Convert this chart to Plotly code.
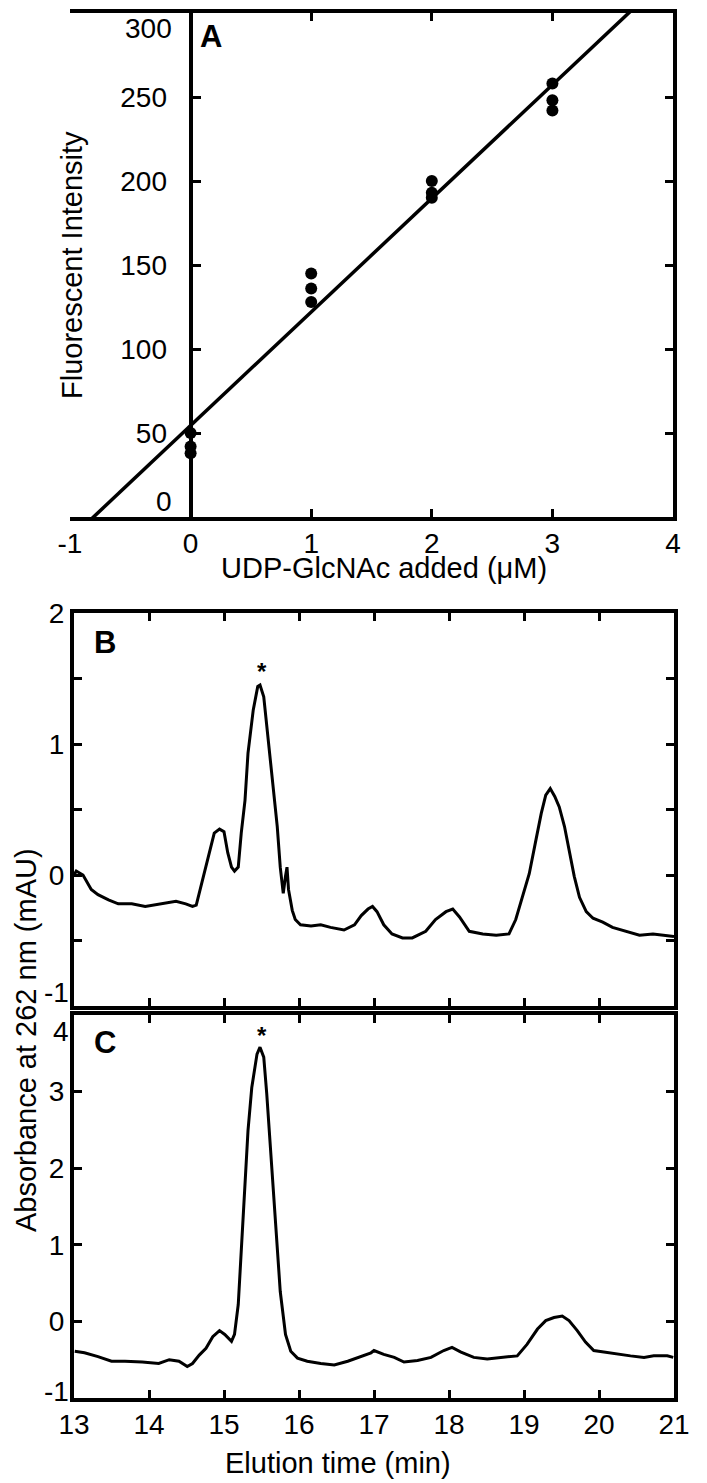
import numpy as np
import plotly.graph_objects as go

# Panel A: fluorescence standard curve
udp_added = [0, 0, 0, 1, 1, 1, 2, 2, 2, 3, 3, 3]
fluor_int = [50, 42, 38, 145, 136, 128, 200, 193, 190, 258, 248, 242]

# Panel B: chromatogram (elution time in min, absorbance in mAU)
time_b = [13.0, 13.03, 13.12, 13.23, 13.32, 13.46, 13.59, 13.77, 13.95, 14.13, 14.36,
          14.49, 14.58, 14.63, 14.67, 14.74, 14.81, 14.87, 14.94, 15.0, 15.05, 15.1,
          15.14, 15.19, 15.23, 15.28, 15.32, 15.39, 15.45, 15.48, 15.53, 15.57, 15.64,
          15.71, 15.75, 15.79, 15.82, 15.84, 15.86, 15.91, 15.95, 16.02, 16.16, 16.29,
          16.42, 16.6, 16.74, 16.83, 16.92, 16.98, 17.04, 17.13, 17.24, 17.38, 17.51,
          17.69, 17.82, 17.96, 18.05, 18.14, 18.27, 18.45, 18.63, 18.8, 18.89, 18.98,
          19.07, 19.16, 19.23, 19.29, 19.35, 19.41, 19.47, 19.54, 19.61, 19.67, 19.74,
          19.83, 19.92, 20.05, 20.18, 20.36, 20.54, 20.72, 20.85, 21.0]
abs_b = [0.0, 0.03, 0.0, -0.11, -0.15, -0.19, -0.22, -0.22, -0.24, -0.22, -0.2,
         -0.22, -0.24, -0.23, -0.14, 0.01, 0.19, 0.32, 0.35, 0.33, 0.17, 0.06,
         0.03, 0.06, 0.32, 0.57, 0.93, 1.26, 1.44, 1.45, 1.36, 1.14, 0.78,
         0.37, 0.06, -0.14, -0.01, 0.06, -0.11, -0.27, -0.34, -0.38, -0.39, -0.38,
         -0.4, -0.42, -0.38, -0.31, -0.26, -0.24, -0.28, -0.38, -0.45, -0.48, -0.48,
         -0.43, -0.34, -0.28, -0.26, -0.32, -0.43, -0.45, -0.46, -0.45, -0.34, -0.17,
         0.01, 0.27, 0.47, 0.61, 0.66, 0.6, 0.52, 0.37, 0.17, -0.01, -0.17,
         -0.28, -0.33, -0.36, -0.4, -0.43, -0.46, -0.45, -0.46, -0.47]

# Panel C: chromatogram
time_c = [13.01, 13.14, 13.32, 13.5, 13.68, 13.91, 14.13, 14.27, 14.4, 14.51, 14.58,
          14.67, 14.76, 14.85, 14.94, 15.01, 15.1, 15.14, 15.19, 15.23, 15.28, 15.32,
          15.37, 15.44, 15.48, 15.53, 15.57, 15.62, 15.68, 15.75, 15.82, 15.89, 15.98,
          16.11, 16.29, 16.47, 16.65, 16.83, 16.96, 17.0, 17.13, 17.27, 17.4, 17.58,
          17.76, 17.93, 18.04, 18.16, 18.33, 18.51, 18.73, 18.91, 19.04, 19.18, 19.29,
          19.4, 19.51, 19.6, 19.71, 19.82, 19.93, 20.07, 20.24, 20.42, 20.6, 20.73,
          20.91, 20.99]
abs_c = [-0.39, -0.41, -0.46, -0.52, -0.52, -0.53, -0.55, -0.5, -0.52, -0.59, -0.55,
         -0.44, -0.35, -0.2, -0.12, -0.17, -0.26, -0.17, 0.22, 0.87, 1.7, 2.49,
         3.05, 3.49, 3.58, 3.45, 2.97, 2.27, 1.31, 0.39, -0.17, -0.39, -0.48,
         -0.52, -0.55, -0.57, -0.52, -0.46, -0.41, -0.38, -0.43, -0.47, -0.53, -0.51,
         -0.47, -0.38, -0.34, -0.4, -0.47, -0.49, -0.47, -0.45, -0.3, -0.1, 0.01,
         0.05, 0.07, 0.01, -0.12, -0.27, -0.38, -0.4, -0.43, -0.45, -0.47, -0.45,
         -0.45, -0.47]

# linear fit for panel A
slope, intercept = np.polyfit(udp_added, fluor_int, 1)
fit_x = [-1, 4]
fit_y = [intercept + slope * x for x in fit_x]

FONT = "Liberation Sans, Arial, Helvetica, sans-serif"
# the page body adds an 8px margin, so the figure is a bit smaller than the window
OFF = 8
W, H = 707 - OFF, 1483 - OFF
LW = 4       # axis line width
TL = 8       # tick length
TW = 3       # tick width


def px(x):
    return (x - OFF) / W


def py(y):
    return (H - (y - OFF)) / H


xa_dom = [px(70), px(673)]
ya_dom = [py(517), py(13)]
xbc_dom = [px(74), px(674)]
yb_dom = [py(1006), py(613)]
yc_dom = [py(1398), py(1015)]
yaxis_pos = xa_dom[0] + 0.2 * (xa_dom[1] - xa_dom[0])  # y axis sits at x = 0

fig = go.Figure()

fig.add_trace(go.Scatter(x=fit_x, y=fit_y, mode="lines", line=dict(color="black", width=3.5),
                         xaxis="x", yaxis="y", showlegend=False))
fig.add_trace(go.Scatter(x=udp_added, y=fluor_int, mode="markers",
                         marker=dict(color="black", size=12), xaxis="x", yaxis="y",
                         showlegend=False, cliponaxis=False))
# empty trace so the right-hand mirror axis of panel A is drawn
fig.add_trace(go.Scatter(x=[None], y=[None], xaxis="x", yaxis="y4", showlegend=False))

fig.add_trace(go.Scatter(x=time_b, y=abs_b, mode="lines", line=dict(color="black", width=3),
                         xaxis="x2", yaxis="y2", showlegend=False))
fig.add_trace(go.Scatter(x=time_c, y=abs_c, mode="lines", line=dict(color="black", width=3),
                         xaxis="x3", yaxis="y3", showlegend=False))

tick_font = dict(size=28, color="black", family=FONT)
common = dict(showgrid=False, zeroline=False, showline=True, linecolor="black", linewidth=LW,
              ticks="inside", ticklen=TL, tickwidth=TW, tickcolor="black", automargin=False,
              tickfont=tick_font)

fig.update_layout(
    template="none",
    width=W, height=H,
    margin=dict(l=0, r=0, t=0, b=0),
    paper_bgcolor="white", plot_bgcolor="white",
    font=dict(family=FONT, color="black"),
    xaxis=dict(common, domain=xa_dom, anchor="y", range=[-1, 4], mirror="ticks",
               tickvals=[-1, 0, 1, 2, 3, 4], ticktext=["-1", "0", "1", "2", "3", "4"],
               ticklabelstandoff=-2),
    yaxis=dict(common, domain=ya_dom, anchor="free", position=yaxis_pos, range=[0, 300],
               tickvals=[0, 50, 100, 150, 200, 250, 300],
               ticktext=["", "50", "100", "150", "200", "250", ""], ticklabelstandoff=16),
    yaxis4=dict(common, domain=ya_dom, anchor="x", overlaying="y", side="right",
                range=[0, 300], tickvals=[50, 100, 150, 200, 250], showticklabels=False),
    xaxis2=dict(common, domain=xbc_dom, anchor="y2", range=[13, 21], mirror="ticks",
                tickvals=list(range(13, 22)), showticklabels=False),
    yaxis2=dict(common, domain=yb_dom, anchor="x2", range=[-1, 2], mirror="ticks",
                tickvals=[-1, -0.5, 0, 0.5, 1, 1.5, 2],
                ticktext=["", "", "0", "", "1", "", "2"], ticklabelstandoff=0),
    xaxis3=dict(common, domain=xbc_dom, anchor="y3", range=[13, 21], mirror="ticks",
                tickvals=list(range(13, 22)), ticklabelstandoff=-2),
    yaxis3=dict(common, domain=yc_dom, anchor="x3", range=[-1, 4], mirror="ticks",
                tickvals=[-1, 0, 1, 2, 3, 4],
                ticktext=["", "0", "1", "2", "3", ""], ticklabelstandoff=0),
)

title_font = dict(size=29, color="black", family=FONT)
letter_font = dict(size=31, color="black", family=FONT, weight="bold")
star_font = dict(size=24, color="black", family=FONT, weight="bold")

annotations = [
    dict(text="UDP-GlcNAc added (μM)", x=px(384), y=py(568), xref="paper", yref="paper",
         showarrow=False, font=title_font, xanchor="center", yanchor="middle"),
    dict(text="Fluorescent Intensity", x=px(72), y=py(265), xref="paper", yref="paper",
         showarrow=False, font=title_font, textangle=-90, xanchor="center", yanchor="middle"),
    dict(text="Absorbance at 262 nm (mAU)", x=px(26), y=py(1040), xref="paper",
         yref="paper", showarrow=False, font=title_font, textangle=-90,
         xanchor="center", yanchor="middle"),
    dict(text="Elution time (min)", x=px(338), y=py(1463), xref="paper", yref="paper",
         showarrow=False, font=title_font, xanchor="center", yanchor="middle"),
    dict(text="A", x=0.212, y=0.954, xref="x domain", yref="y domain", showarrow=False,
         font=letter_font, xanchor="left", yanchor="middle"),
    dict(text="B", x=0.052, y=0.924, xref="x2 domain", yref="y2 domain", showarrow=False,
         font=letter_font, xanchor="center", yanchor="middle"),
    dict(text="C", x=0.052, y=0.929, xref="x3 domain", yref="y3 domain", showarrow=False,
         font=letter_font, xanchor="center", yanchor="middle"),
    dict(text="*", x=15.5, y=1.55, xref="x2", yref="y2", showarrow=False, font=star_font,
         xanchor="center", yanchor="middle"),
    dict(text="*", x=15.5, y=3.73, xref="x3", yref="y3", showarrow=False, font=star_font,
         xanchor="center", yanchor="middle"),
    # end labels of the y axes sit a little inside the axis ends, as in the original
    dict(text="300", x=yaxis_pos, y=290.5, xref="paper", yref="y", showarrow=False,
         font=tick_font, xanchor="right", yanchor="middle", xshift=-17),
    dict(text="0", x=yaxis_pos, y=9, xref="paper", yref="y", showarrow=False,
         font=tick_font, xanchor="right", yanchor="middle", xshift=-17),
    dict(text="-1", x=0, y=-0.9, xref="x2 domain", yref="y2", showarrow=False,
         font=tick_font, xanchor="right", yanchor="middle", xshift=-3),
    dict(text="4", x=0, y=3.78, xref="x3 domain", yref="y3", showarrow=False,
         font=tick_font, xanchor="right", yanchor="middle", xshift=-3),
    dict(text="-1", x=0, y=-0.91, xref="x3 domain", yref="y3", showarrow=False,
         font=tick_font, xanchor="right", yanchor="middle", xshift=-3),
]
fig.update_layout(annotations=annotations)

fig.write_html("out.html")
